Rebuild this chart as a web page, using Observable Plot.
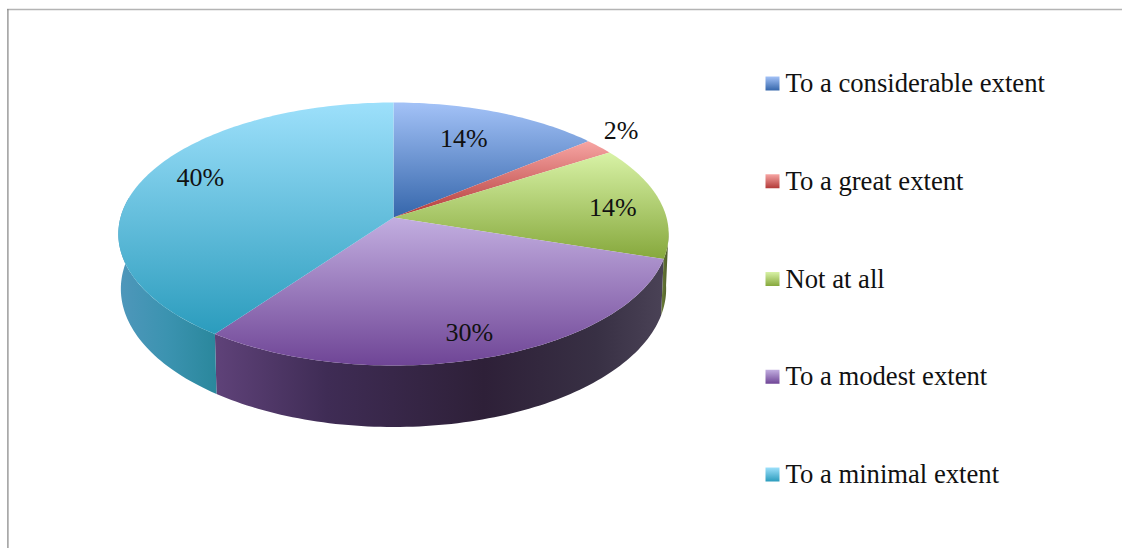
<!DOCTYPE html>
<html>
<head>
<meta charset="utf-8">
<style>html,body{margin:0;padding:0;background:#fff;overflow:hidden}svg{display:block}</style>
<script src="https://cdn.jsdelivr.net/npm/d3@7"></script>
<script src="https://cdn.jsdelivr.net/npm/@observablehq/plot@0.6"></script>
</head>
<body>
<div id="chart"></div>
<script>
const categories = ["To a considerable extent","To a great extent","Not at all","To a modest extent","To a minimal extent"];
const shares = [14,2,14,30,40];
const topColors = [["#a3c2f7","#3566ab"],["#f7a5a3","#b23a38"],["#d8f2a6","#86a83c"],["#c2aee0","#6f4596"],["#9de0fb","#2b9cbd"]];
const labelRadius = [0.73,1.11,0.82,0.84,0.77];
const labelNudge = [[-8,0],[1,-9],[0,3],[-3,0],[1,-10]];
// The perspective of the disc (layout only)
const tilt = 0.1255;
const topFace = {cx:393, cy:217, A:273, a:129.4};
const baseFace = {cx:393, cy:271, A:270.5, a:136};
const project = (f, pct, r=1) => {
  const t = pct/100*2*Math.PI, u = r*Math.sin(t), v = r*Math.cos(t), w = 1+tilt*v;
  return [f.cx+f.A*u/w, f.cy-f.a*v/w];
};
const arc = (f, p0, p1) => {
  const n = Math.max(2, Math.ceil(Math.abs(p1-p0)*3));
  return d3.range(n+1).map(i => project(f, p0+(p1-p0)*i/n));
};
let acc = 0;
const spans = shares.map(s => {const r=[acc,acc+s]; acc+=s; return r;});
const topRows = spans.flatMap(([p0,p1],i) =>
  [[topFace.cx,topFace.cy], ...arc(topFace,p0,p1), [topFace.cx,topFace.cy]].map(([x,y]) => ({x,y,fill:`url(#top${i})`})));
// Visible walls: a sliver of "Not at all", then the modest and minimal slices up to the left extreme
const walls = [{id:"wall2",p0:26.6,p1:30},{id:"wall3",p0:30,p1:60},{id:"wall4",p0:60,p1:77.5}];
const wallRows = walls.flatMap(w =>
  [...arc(topFace,w.p0,w.p1), ...arc(baseFace,w.p1,w.p0)].map(([x,y]) => ({x,y,fill:`url(#${w.id})`})));
const labels = shares.map((s,i) => {
  const [x,y] = project(topFace,(spans[i][0]+spans[i][1])/2,labelRadius[i]);
  return {x:x+labelNudge[i][0], y:y+labelNudge[i][1], text:s+"%"};
});
const legendY = d3.scalePoint().domain(categories).range([83,474]);
const legendRows = categories.map((c,i) => ({c,y:legendY(c),fill:`url(#top${i})`}));

const font = "'Liberation Serif','Times New Roman',serif";
const plot = Plot.plot({
  width:1122, height:548, margin:0,
  x:{domain:[0,1122],range:[0,1122],axis:null},
  y:{domain:[0,548],range:[0,548],axis:null},
  color:{type:"identity"},
  style:{background:"#fff"},
  marks:[
    Plot.ruleY([9],{x1:7,x2:1122,stroke:"#b4b4b4",strokeWidth:1.6}),
    Plot.ruleX([7.4],{y1:9,y2:548,stroke:"#8c8c8c",strokeWidth:1.3}),
    Plot.line(wallRows,{x:"x",y:"y",fill:"fill",z:"fill",stroke:"none",curve:"linear"}),
    Plot.line(topRows,{x:"x",y:"y",fill:"fill",z:"fill",stroke:"none",curve:"linear"}),
    Plot.text(labels,{x:"x",y:"y",text:"text",fontFamily:font,fontSize:26,fill:"#111"}),
    Plot.dot(legendRows,{x:()=>772,y:"y",symbol:"square",r:7.9,fill:"fill",stroke:"none"}),
    Plot.text(legendRows,{x:()=>785,y:"y",text:"c",textAnchor:"start",fontFamily:font,fontSize:26.67,fill:"#111"})
  ]
});
const defs = d3.select(plot).append("defs");
const addGradient = (id, stops, horizontal) => {
  const g = defs.append("linearGradient").attr("id",id).attr("x1",0).attr("y1",0)
    .attr("x2",horizontal?1:0).attr("y2",horizontal?0:1);
  stops.forEach(([o,c]) => g.append("stop").attr("offset",o).attr("stop-color",c));
};
topColors.forEach(([a,b],i) => addGradient(`top${i}`,[[0,a],[1,b]],false));
addGradient("wall2",[[0,"#6c7f38"],[1,"#4a5728"]],true);
addGradient("wall3",[[0,"#5f4279"],[0.25,"#3f2c55"],[0.6,"#2e2038"],[0.85,"#383044"],[1,"#4a4256"]],true);
addGradient("wall4",[[0,"#4f97bb"],[0.5,"#3b93b0"],[1,"#2a879c"]],true);
document.getElementById("chart").appendChild(plot);
</script>
</body>
</html>
